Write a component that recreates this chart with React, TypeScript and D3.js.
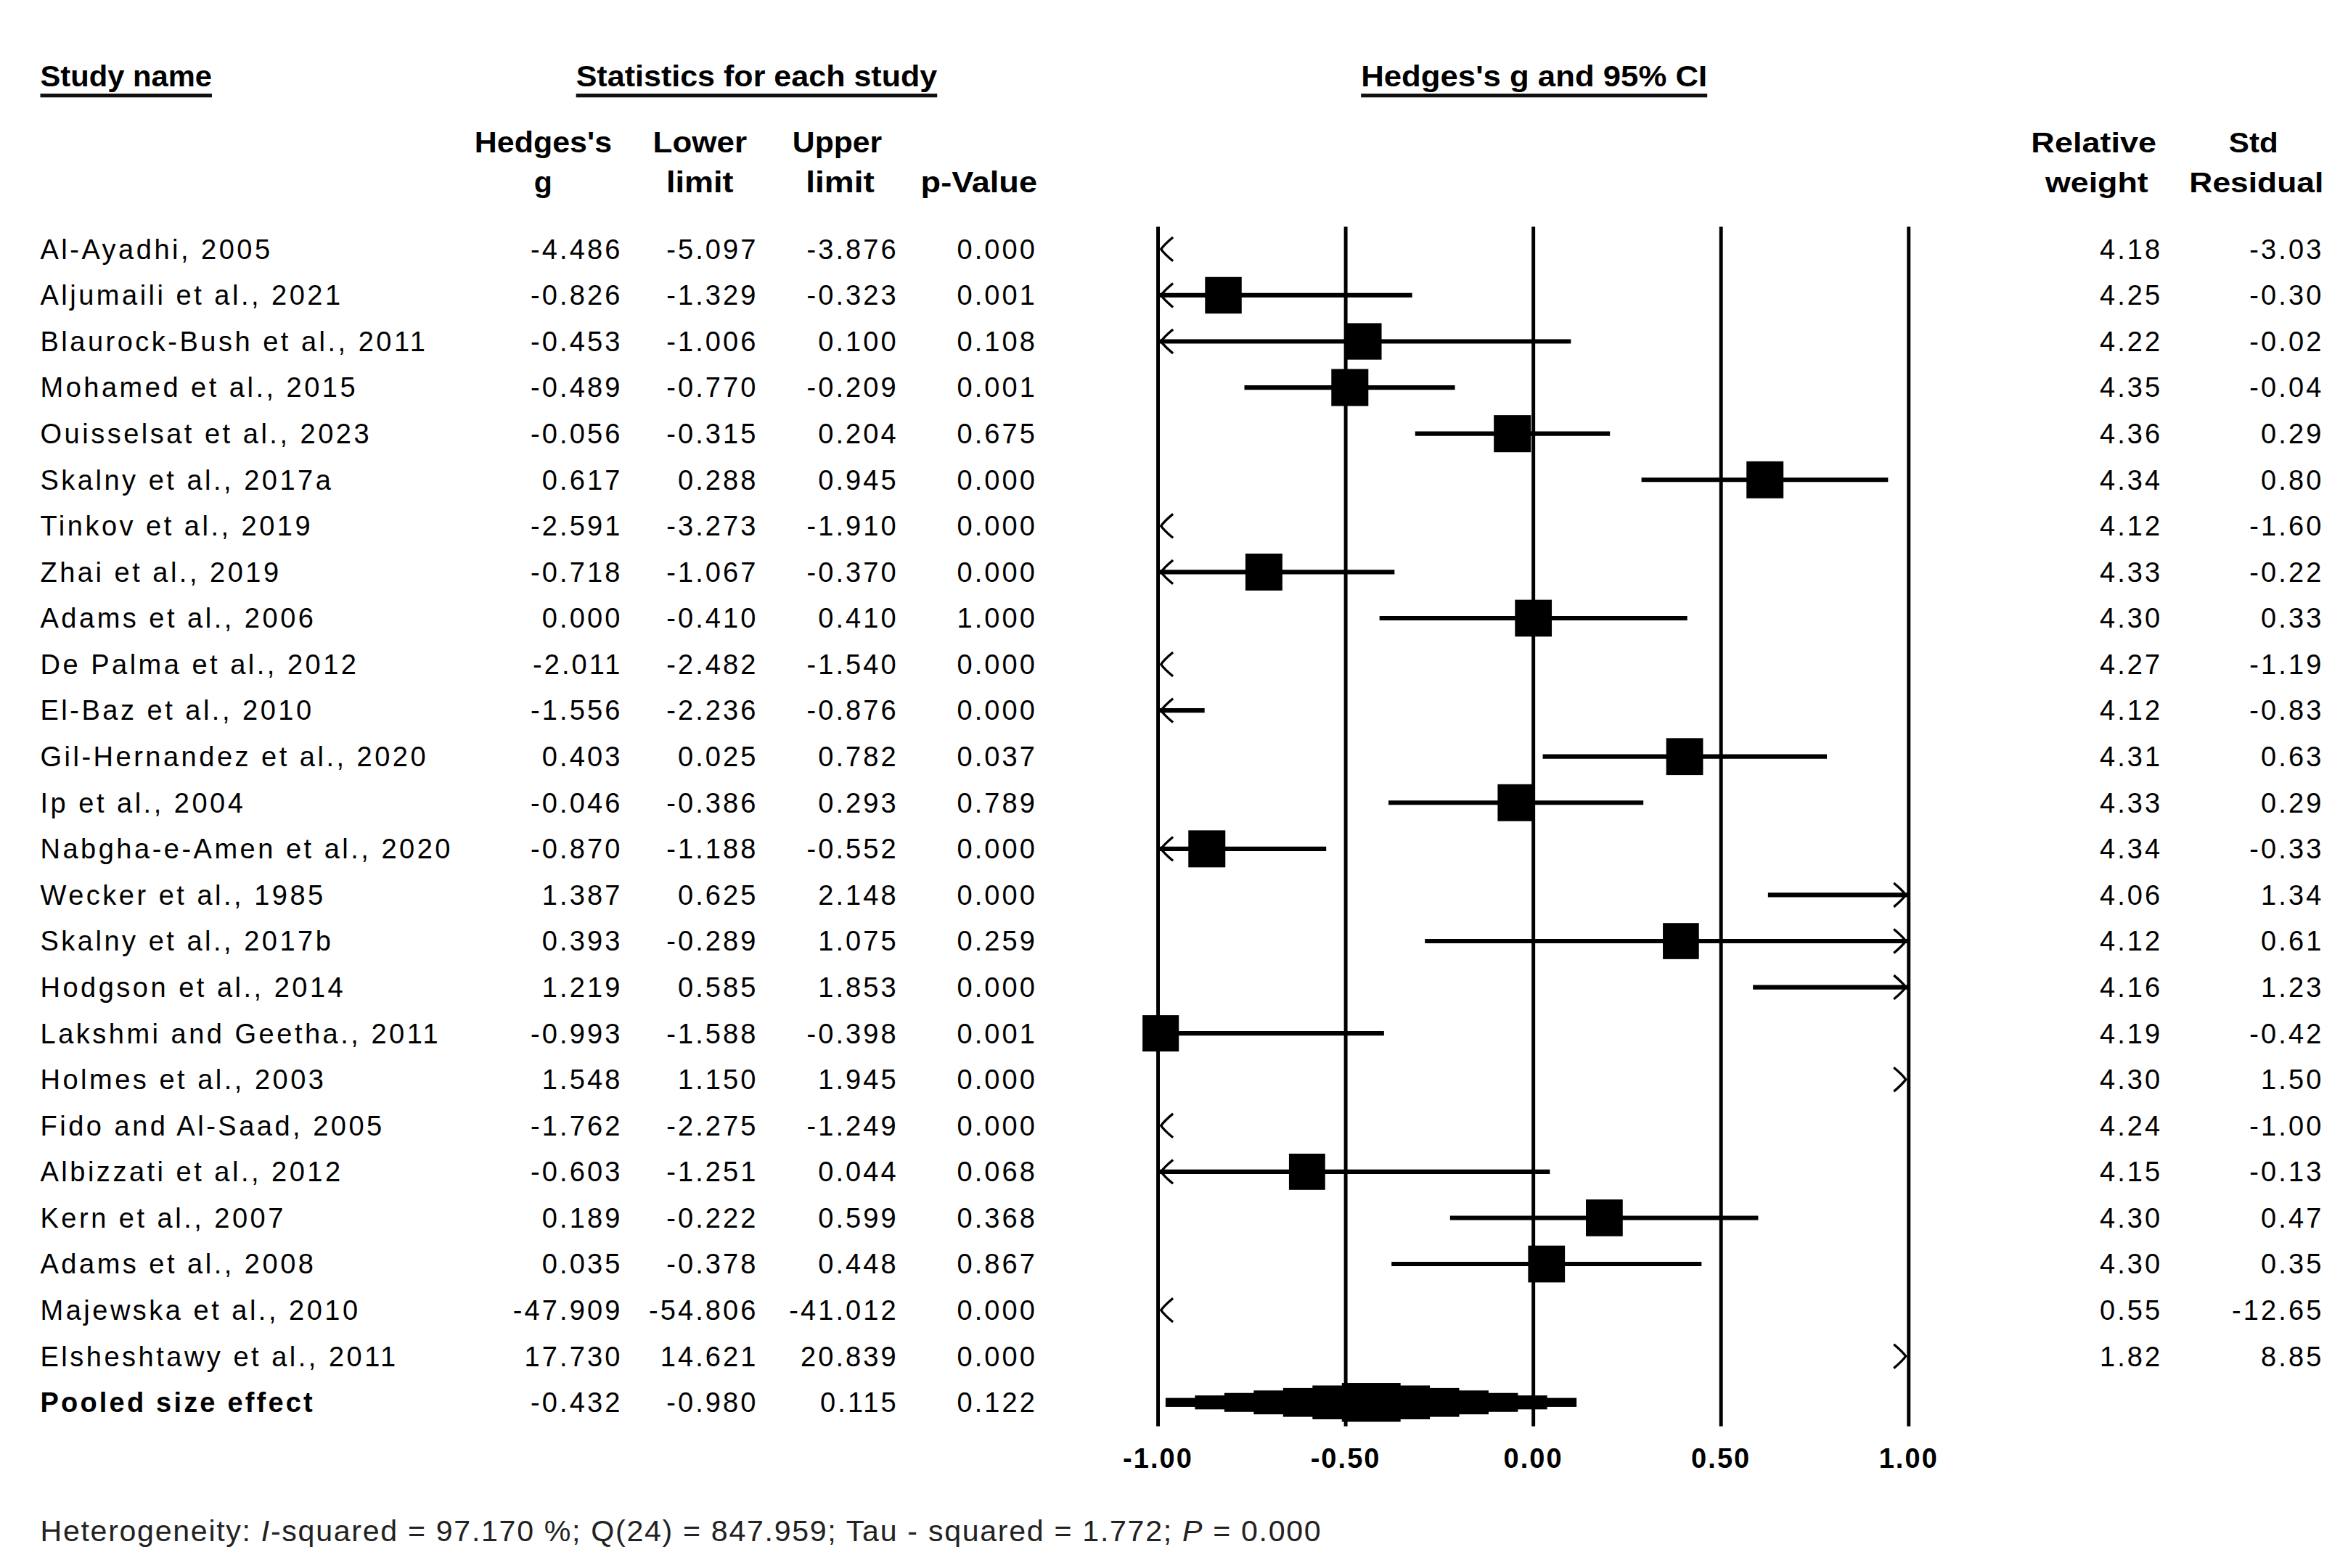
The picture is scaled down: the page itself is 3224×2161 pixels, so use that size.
import * as d3 from 'd3'

// study rows, top to bottom
const studies = [
  'Al-Ayadhi, 2005',
  'Aljumaili et al., 2021',
  'Blaurock-Bush et al., 2011',
  'Mohamed et al., 2015',
  'Ouisselsat et al., 2023',
  'Skalny et al., 2017a',
  'Tinkov et al., 2019',
  'Zhai et al., 2019',
  'Adams et al., 2006',
  'De Palma et al., 2012',
  'El-Baz et al., 2010',
  'Gil-Hernandez et al., 2020',
  'Ip et al., 2004',
  'Nabgha-e-Amen et al., 2020',
  'Wecker et al., 1985',
  'Skalny et al., 2017b',
  'Hodgson et al., 2014',
  'Lakshmi and Geetha., 2011',
  'Holmes et al., 2003',
  'Fido and Al-Saad, 2005',
  'Albizzati et al., 2012',
  'Kern et al., 2007',
  'Adams et al., 2008',
  'Majewska et al., 2010',
  'Elsheshtawy et al., 2011',
]
const hedgesG = [-4.486, -0.826, -0.453, -0.489, -0.056, 0.617, -2.591, -0.718, 0.0, -2.011, -1.556, 0.403, -0.046, -0.87, 1.387, 0.393, 1.219, -0.993, 1.548, -1.762, -0.603, 0.189, 0.035, -47.909, 17.73]
const lowerLimit = [-5.097, -1.329, -1.006, -0.77, -0.315, 0.288, -3.273, -1.067, -0.41, -2.482, -2.236, 0.025, -0.386, -1.188, 0.625, -0.289, 0.585, -1.588, 1.15, -2.275, -1.251, -0.222, -0.378, -54.806, 14.621]
const upperLimit = [-3.876, -0.323, 0.1, -0.209, 0.204, 0.945, -1.91, -0.37, 0.41, -1.54, -0.876, 0.782, 0.293, -0.552, 2.148, 1.075, 1.853, -0.398, 1.945, -1.249, 0.044, 0.599, 0.448, -41.012, 20.839]
const pValues = [0.0, 0.001, 0.108, 0.001, 0.675, 0.0, 0.0, 0.0, 1.0, 0.0, 0.0, 0.037, 0.789, 0.0, 0.0, 0.259, 0.0, 0.001, 0.0, 0.0, 0.068, 0.368, 0.867, 0.0, 0.0]
const relWeight = [4.18, 4.25, 4.22, 4.35, 4.36, 4.34, 4.12, 4.33, 4.3, 4.27, 4.12, 4.31, 4.33, 4.34, 4.06, 4.12, 4.16, 4.19, 4.3, 4.24, 4.15, 4.3, 4.3, 0.55, 1.82]
const stdResidual = [-3.03, -0.3, -0.02, -0.04, 0.29, 0.8, -1.6, -0.22, 0.33, -1.19, -0.83, 0.63, 0.29, -0.33, 1.34, 0.61, 1.23, -0.42, 1.5, -1.0, -0.13, 0.47, 0.35, -12.65, 8.85]

const pooledLabel = 'Pooled size effect'
// g, lower, upper, p
const pooledStats = [-0.432, -0.98, 0.115, 0.122]

const axisTicks = [-1, -0.5, 0, 0.5, 1]

const W = 1568
const H = 1051
const FONT = "'Liberation Sans', Arial, sans-serif"
const NARROW = "'Liberation Sans Narrow', 'Liberation Sans', Arial, sans-serif"

// right edges of the number columns
const colRight = { g: 417, lo: 508, hi: 602, p: 695, w: 1449, r: 1557 }

const x = d3.scaleLinear().domain([-1, 1]).range([776, 1279])
const rowKeys = [...studies, pooledLabel]
const y = d3.scalePoint<string>().domain(rowKeys).range([167, 940])

const fmt3 = (v: number) => v.toFixed(3)
const fmt2 = (v: number) => v.toFixed(2)

function chevron(px: number, py: number, dir: number) {
  // small open arrow head, dir -1 = pointing left, 1 = pointing right
  const dx = -dir * 8
  return `M${px + dx},${py - 8} Q${px + dx * 0.25},${py - 3} ${px},${py} Q${px + dx * 0.25},${py + 3} ${px + dx},${py + 8}`
}

function pooledDiamond() {
  const [g, lo, hi] = pooledStats
  const steps = 7
  const cy = y(pooledLabel) as number
  return d3.range(steps).map(k => {
    const f = 1 - k / steps
    const x0 = x(g - (g - lo) * f)
    const x1 = x(g + (hi - g) * f)
    const hh = 3 + (10 * k) / (steps - 1)
    return <rect key={k} x={x0} y={cy - hh} width={x1 - x0} height={hh * 2} fill="#000" />
  })
}

function Header({ text, cx, yy, len, narrow = true }: { text: string; cx: number; yy: number; len?: number; narrow?: boolean }) {
  return (
    <text
      x={cx}
      y={yy}
      textAnchor="middle"
      fontFamily={narrow ? NARROW : FONT}
      fontWeight="bold"
      fontSize={narrow ? 20 : 19}
      textLength={len}
      lengthAdjust={len ? 'spacingAndGlyphs' : undefined}
    >
      {text}
    </text>
  )
}

export default function App() {
  const [xmin, xmax] = x.domain()
  return (
    <svg
      width={3224}
      height={2161}
      viewBox={`0 0 ${W} ${H}`}
      style={{ position: 'absolute', left: 0, top: 0, background: '#fff' }}
    >
      <rect x={0} y={0} width={W} height={H} fill="#fff" />

      {/* section titles */}
      <Header text="Study name" cx={84.5} yy={58} len={115} />
      <line x1={27} x2={142} y1={64} y2={64} stroke="#111" strokeWidth={2.6} />
      <Header text="Statistics for each study" cx={507} yy={58} len={242} />
      <line x1={386} x2={628} y1={64} y2={64} stroke="#111" strokeWidth={2.6} />
      <Header text="Hedges's g and 95% CI" cx={1028} yy={58} len={232} />
      <line x1={912} x2={1144} y1={64} y2={64} stroke="#111" strokeWidth={2.6} />

      {/* column headers */}
      <Header text="Hedges's" cx={364} yy={102} len={92} />
      <Header text="g" cx={364} yy={129} />
      <Header text="Lower" cx={469} yy={102} len={63} />
      <Header text="limit" cx={469} yy={129} len={45} />
      <Header text="Upper" cx={561} yy={102} len={60} />
      <Header text="limit" cx={563} yy={129} len={46} />
      <Header text="p-Value" cx={656} yy={129} len={78} />
      <Header text="Relative" cx={1403} yy={102} len={84} narrow={false} />
      <Header text="weight" cx={1405} yy={129} len={69} narrow={false} />
      <Header text="Std" cx={1510} yy={102} len={33} narrow={false} />
      <Header text="Residual" cx={1512} yy={129} len={90} narrow={false} />

      {/* vertical reference lines */}
      {axisTicks.map(t => (
        <line key={t} x1={x(t)} x2={x(t)} y1={152} y2={956} stroke="#000" strokeWidth={2.4} />
      ))}

      {/* table rows */}
      {studies.map((name, i) => {
        const cy = y(name) as number
        const by = cy + 6.5
        return (
          <g key={name} fontFamily={FONT} fontSize={18.5} letterSpacing={1.5} fill="#000">
            <text x={27} y={by} letterSpacing={1.7}>{name}</text>
            <text x={colRight.g} y={by} textAnchor="end">{fmt3(hedgesG[i])}</text>
            <text x={colRight.lo} y={by} textAnchor="end">{fmt3(lowerLimit[i])}</text>
            <text x={colRight.hi} y={by} textAnchor="end">{fmt3(upperLimit[i])}</text>
            <text x={colRight.p} y={by} textAnchor="end">{fmt3(pValues[i])}</text>
            <text x={colRight.w} y={by} textAnchor="end">{fmt2(relWeight[i])}</text>
            <text x={colRight.r} y={by} textAnchor="end">{fmt2(stdResidual[i])}</text>
          </g>
        )
      })}

      {/* CI lines, arrows and squares */}
      {studies.map((name, i) => {
        const cy = y(name) as number
        const lo = Math.max(lowerLimit[i], xmin)
        const hi = Math.min(upperLimit[i], xmax)
        const g = hedgesG[i]
        const side = 11.9 * Math.sqrt(relWeight[i])
        return (
          <g key={name}>
            {hi > lo && (
              <line x1={x(lo)} x2={x(hi)} y1={cy} y2={cy} stroke="#000" strokeWidth={3} />
            )}
            {lowerLimit[i] < xmin && (
              <path d={chevron(x(xmin) + 2, cy, -1)} fill="none" stroke="#000" strokeWidth={1.6} />
            )}
            {upperLimit[i] > xmax && (
              <path d={chevron(x(xmax) - 2, cy, 1)} fill="none" stroke="#000" strokeWidth={1.6} />
            )}
            {g >= xmin && g <= xmax && (
              <rect x={x(g) - side / 2} y={cy - side / 2} width={side} height={side} fill="#000" />
            )}
          </g>
        )
      })}

      {/* pooled row */}
      <g fontFamily={FONT} fontSize={18.5} letterSpacing={1.5} fill="#000">
        <text x={27} y={(y(pooledLabel) as number) + 6.5} fontWeight="bold" textLength={184} lengthAdjust="spacing">{pooledLabel}</text>
        {[colRight.g, colRight.lo, colRight.hi, colRight.p].map((cx, k) => (
          <text key={k} x={cx} y={(y(pooledLabel) as number) + 6.5} textAnchor="end">{fmt3(pooledStats[k])}</text>
        ))}
      </g>
      {pooledDiamond()}

      {/* axis tick labels */}
      {axisTicks.map(t => (
        <text key={t} x={x(t)} y={984} textAnchor="middle" fontFamily={FONT} fontWeight="bold" fontSize={18.5} letterSpacing={1}>
          {t.toFixed(2)}
        </text>
      ))}

      {/* heterogeneity footnote */}
      <text x={27} y={1033} fontFamily={FONT} fontSize={20} fill="#222" textLength={858} lengthAdjust="spacing">
        Heterogeneity: <tspan fontStyle="italic">I</tspan>-squared = 97.170 %; Q(24) = 847.959; Tau - squared = 1.772;{' '}
        <tspan fontStyle="italic">P</tspan> = 0.000
      </text>
    </svg>
  )
}
